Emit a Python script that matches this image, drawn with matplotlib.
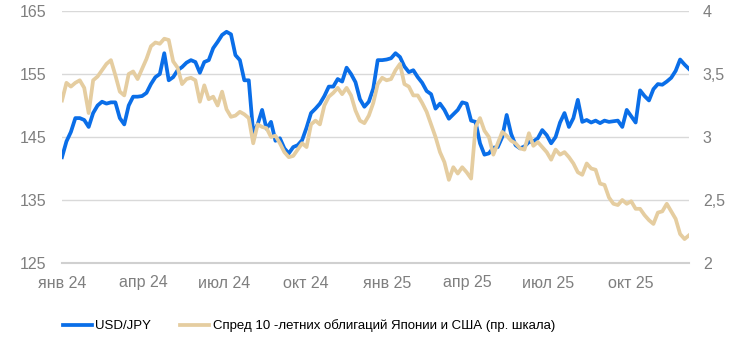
import matplotlib

matplotlib.use("Agg")
import matplotlib.pyplot as plt
import pandas as pd

plt.rcParams["font.family"] = ["Liberation Sans", "DejaVu Sans"]

# USD/JPY, шаг 5 дней с 01.01.2024
usdjpy = [
    141.8, 144.3, 145.8, 148.0, 148.0, 147.7, 146.6, 148.8, 150.0, 150.6,
    150.3, 150.5, 150.5, 148.0, 147.0, 150.0, 151.4, 151.4, 151.5, 152.0,
    153.4, 154.5, 155.0, 158.3, 154.0, 154.5, 155.6, 156.1, 156.8, 157.2,
    156.9, 155.2, 156.9, 157.2, 159.1, 160.1, 161.2, 161.7, 161.3, 158.0,
    157.2, 154.0, 154.0, 145.6, 147.0, 149.3, 146.3, 147.4, 144.4, 144.8,
    143.2, 142.4, 143.4, 143.7, 144.5, 146.5, 148.8, 149.5, 150.3, 151.5,
    153.0, 153.0, 154.2, 153.8, 156.0, 155.0, 153.7, 151.0, 149.8, 150.6,
    152.7, 157.2, 157.2, 157.3, 157.5, 158.3, 157.7, 156.2, 155.3, 155.6,
    154.5, 153.6, 152.3, 151.8, 149.5, 150.3, 149.3, 147.9, 148.6, 149.3,
    150.5, 150.3, 147.6, 147.4, 144.0, 142.2, 142.4, 143.3, 143.4, 145.0,
    148.5, 145.5, 143.7, 143.2, 143.5, 144.2, 144.3, 144.8, 146.1, 145.3,
    144.0, 145.0, 147.3, 148.8, 146.6, 148.0, 150.9, 147.4, 147.7, 147.3,
    147.6, 147.2, 147.6, 147.4, 147.5, 147.6, 146.6, 149.3, 148.3, 147.3,
    152.4, 151.5, 150.8, 152.6, 153.4, 153.3, 153.8, 154.4, 155.5, 157.3,
    156.5, 155.8,
]

# спред 10-летних облигаций США и Японии, п.п.
spread = [
    3.29, 3.43, 3.40, 3.43, 3.45, 3.39, 3.19, 3.45, 3.48, 3.53,
    3.58, 3.61, 3.49, 3.36, 3.33, 3.50, 3.52, 3.46, 3.54, 3.62,
    3.72, 3.75, 3.74, 3.78, 3.77, 3.60, 3.55, 3.42, 3.46, 3.47,
    3.45, 3.28, 3.41, 3.30, 3.32, 3.25, 3.36, 3.22, 3.16, 3.17,
    3.20, 3.18, 3.15, 2.95, 3.10, 3.08, 3.07, 3.00, 3.01, 2.95,
    2.88, 2.84, 2.85, 2.90, 2.95, 2.92, 3.10, 3.13, 3.10, 3.25,
    3.32, 3.35, 3.39, 3.34, 3.39, 3.33, 3.21, 3.13, 3.11, 3.17,
    3.27, 3.42, 3.47, 3.45, 3.46, 3.53, 3.58, 3.42, 3.40, 3.33,
    3.33, 3.27, 3.20, 3.10, 3.00, 2.88, 2.80, 2.66, 2.76, 2.71,
    2.76, 2.72, 2.67, 3.08, 3.15, 3.05, 3.00, 2.86, 2.95, 3.04,
    3.01, 2.97, 2.95, 2.91, 2.90, 3.03, 2.93, 2.96, 2.92, 2.88,
    2.82, 2.90, 2.86, 2.88, 2.84, 2.79, 2.72, 2.70, 2.79, 2.75,
    2.74, 2.63, 2.62, 2.52, 2.47, 2.46, 2.50, 2.47, 2.49, 2.43,
    2.43, 2.38, 2.34, 2.31, 2.40, 2.41, 2.47, 2.41, 2.35, 2.23,
    2.19, 2.22,
]

dates = pd.date_range("2024-01-01", periods=len(usdjpy), freq="5D")

x_ticks = pd.date_range("2024-01-01", "2025-10-01", freq="QS")
x_labels = ["янв 24", "апр 24", "июл 24", "окт 24",
            "янв 25", "апр 25", "июл 25", "окт 25"]
left_ticks = [125, 135, 145, 155, 165]
right_ticks = [2, 2.5, 3, 3.5, 4]
right_labels = ["2", "2,5", "3", "3,5", "4"]

blue = "#0a6ee8"
tan = "#e5cda0"
grey = "#7f7f7f"

fig = plt.figure(figsize=(7.46, 3.55), dpi=100)
ax = fig.add_axes([62 / 746, 1 - 263 / 355, 627 / 746, 252 / 355])
ax2 = ax.twinx()

l1, = ax.plot(dates, usdjpy, color=blue, lw=2.7, solid_joinstyle="round")
l2, = ax2.plot(dates, spread, color=tan, lw=2.7, solid_joinstyle="round")

ax.set_xlim(dates[0], dates[-1])
ax.set_ylim(125, 165)
ax2.set_ylim(2, 4)
ax.set_yticks(left_ticks)
ax2.set_yticks(right_ticks, right_labels)
ax.set_xticks(x_ticks, x_labels)

ax.grid(axis="y", color="#d9d9d9", lw=1)
ax.set_axisbelow(True)
for a in (ax, ax2):
    for s in a.spines.values():
        s.set_visible(False)
    a.tick_params(length=0, labelsize=11.5, labelcolor=grey)
ax.spines["bottom"].set_visible(True)
ax.spines["bottom"].set_color("#d0d0d0")
ax.spines["bottom"].set_linewidth(1.5)
ax.tick_params(axis="y", pad=11)
ax.tick_params(axis="x", pad=9)
ax2.tick_params(axis="y", pad=10)

fig.legend(
    [l1, l2],
    ["USD/JPY", "Спред 10 -летних облигаций Японии и США (пр. шкала)"],
    loc="center left", bbox_to_anchor=(63 / 746, 1 - 326 / 355), ncol=2,
    frameon=False, borderpad=0, borderaxespad=0,
    handlelength=2.2, handletextpad=0.25, columnspacing=2.2,
    prop={"size": 9.5},
)

fig.savefig("out.png")
